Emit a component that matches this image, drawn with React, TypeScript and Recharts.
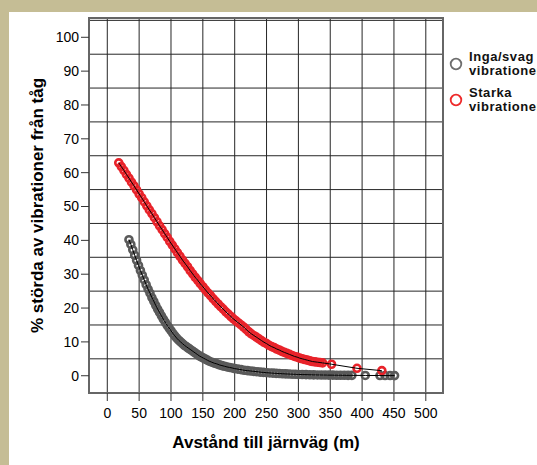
import React from 'react'
import {
  ScatterChart,
  Scatter,
  XAxis,
  YAxis,
  CartesianGrid,
  ReferenceArea,
  Legend,
} from 'recharts'

// Inga/svaga vibrationer (grå)
const WEAK_DIST = [
  34, 37, 40, 43, 46, 49, 52, 55, 58, 61, 64, 67, 70, 73, 76, 79, 82, 85, 88, 91,
  94, 97, 100, 103, 106, 109, 112, 115, 118, 121, 124,
  127, 130, 133, 136, 139, 142, 145, 148, 151, 154, 157,
  160, 164, 168, 172, 176, 180, 184, 188, 192, 196, 200,
  205, 210, 215, 220, 225, 230, 235, 240, 245, 250, 255, 260, 265, 270, 275, 280, 285, 290, 295, 300,
  306, 312, 318, 324, 330, 336, 342, 348, 354, 360, 366, 372, 378, 384,
  405, 428, 436, 444, 451,
]
const WEAK_PCT = [
  40.2, 38.8, 37.2, 35.6, 34.1, 32.6, 31.1, 29.7, 28.3, 26.9, 25.6, 24.4, 23.1, 22.0, 20.8, 19.7, 18.7, 17.7, 16.7, 15.8,
  14.9, 14.1, 13.3, 12.5, 11.8, 11.1, 10.5, 10.0, 9.5, 9.0, 8.6,
  8.2, 7.8, 7.4, 7.0, 6.6, 6.2, 5.8, 5.5, 5.2, 4.9, 4.6,
  4.3, 4.0, 3.7, 3.5, 3.2, 3.0, 2.8, 2.6, 2.45, 2.3, 2.1,
  1.95, 1.8, 1.6, 1.5, 1.4, 1.3, 1.2, 1.07, 0.98, 0.9, 0.83, 0.76, 0.7, 0.64, 0.59, 0.54, 0.5, 0.46, 0.42, 0.38,
  0.35, 0.32, 0.29, 0.26, 0.24, 0.22, 0.2, 0.18, 0.17, 0.15, 0.14, 0.13, 0.12, 0.11,
  0.08, 0.06, 0.05, 0.05, 0.04,
]

// Starka vibrationer (röd)
const STRONG_DIST = [
  18, 22, 26, 30, 34, 38, 42, 46, 50, 54, 58, 62, 66, 70, 74, 78, 82, 86, 90, 94,
  98, 102, 106, 110, 114, 118, 122, 126, 130, 134, 138, 142, 146, 150, 154, 158, 162, 166, 170, 174,
  178, 182, 186, 190, 194, 198, 202, 206, 210, 214, 218, 222, 226, 230, 234, 238, 242, 246, 250, 254,
  258, 262, 266, 270, 274, 278, 282, 286, 290, 294, 298, 302, 306, 310, 314, 318, 322, 326, 330, 334,
  338, 352, 392, 431,
]
const STRONG_PCT = [
  62.9, 61.8, 60.7, 59.5, 58.4, 57.2, 56.1, 54.9, 53.7, 52.6, 51.4, 50.2, 49.0, 47.9, 46.7, 45.5, 44.3, 43.2, 42.0, 40.9,
  39.7, 38.6, 37.5, 36.4, 35.3, 34.2, 33.2, 32.2, 31.1, 30.1, 29.1, 28.2, 27.2, 26.3, 25.4, 24.5, 23.7, 22.8, 22.0, 21.2,
  20.4, 19.7, 18.9, 18.2, 17.5, 16.8, 16.2, 15.6, 15.0, 14.4, 13.7, 13.0, 12.4, 11.9, 11.4, 10.9, 10.4, 9.9, 9.5, 9.0,
  8.6, 8.3, 7.9, 7.6, 7.2, 6.9, 6.6, 6.3, 6.0, 5.7, 5.5, 5.2, 5.0, 4.8, 4.6, 4.4, 4.2, 4.1, 4.0, 3.9,
  3.8, 3.4, 2.2, 1.5,
]

const X_TICKS = [0, 50, 100, 150, 200, 250, 300, 350, 400, 450, 500]
const Y_TICKS = [0, 10, 20, 30, 40, 50, 60, 70, 80, 90, 100]
const Y_GRID = [-5, 0, 5, 10, 15, 20, 25, 30, 35, 40, 45, 50, 55, 60, 65, 70, 75, 80, 85, 90, 95, 100, 105]

const SERIES = [
  { key: 'weak', lines: ['Inga/svag', 'vibrationer'], color: '#6e6e6e' },
  { key: 'strong', lines: ['Starka', 'vibrationer'], color: '#ee2a2a' },
]

const X_DOMAIN: [number, number] = [-28.7, 527]
const Y_DOMAIN: [number, number] = [-5.1, 105.7]

const FONT = '"Liberation Sans", Arial, sans-serif'

const weakData = WEAK_DIST.map((x, i) => ({ x, y: WEAK_PCT[i] }))
const strongData = STRONG_DIST.map((x, i) => ({ x, y: STRONG_PCT[i] }))

const ring = (color: string) => (props: any) => (
  <circle cx={props.cx} cy={props.cy} r={3.5} fill="none" stroke={color} strokeWidth={2.6} />
)
const noMarker = () => <g />

function LegendBox() {
  return (
    <div
      style={{
        fontFamily: FONT,
        fontSize: 13,
        fontWeight: 'bold',
        letterSpacing: 0.55,
        color: '#111',
        lineHeight: '14px',
      }}
    >
      {SERIES.map((s, i) => (
        <div key={s.key} style={{ display: 'flex', alignItems: 'center', marginTop: i ? 8 : 0 }}>
          <svg width={14} height={14} style={{ flex: 'none' }}>
            <circle cx={7} cy={7} r={5.3} fill="none" stroke={s.color} strokeWidth={1.8} />
          </svg>
          <div style={{ marginLeft: 6, whiteSpace: 'nowrap' }}>
            {s.lines.map((l) => (
              <div key={l}>{l}</div>
            ))}
          </div>
        </div>
      ))}
    </div>
  )
}

export default function App() {
  return (
    <div
      style={{
        position: 'fixed',
        left: 0,
        top: 0,
        width: 537,
        height: 465,
        background: '#c5bd95',
        overflow: 'hidden',
      }}
    >
      <div style={{ position: 'absolute', left: 9, top: 12, width: 528, height: 453, background: '#fff' }} />
      <div style={{ position: 'absolute', left: 0, top: 0 }}>
        <ScatterChart width={537} height={465} margin={{ top: 18, right: 94, bottom: 42, left: 29 }}>
          <CartesianGrid
            stroke="#262626"
            strokeWidth={1}
            horizontalValues={Y_GRID}
            verticalValues={X_TICKS}
          />
          <XAxis
            type="number"
            dataKey="x"
            domain={X_DOMAIN}
            ticks={X_TICKS}
            allowDataOverflow
            height={30}
            axisLine={false}
            tickSize={8}
            tickMargin={7}
            tickLine={{ stroke: '#333' }}
            tick={{ fontSize: 14, fill: '#000', fontFamily: FONT }}
            label={{
              value: 'Avstånd till järnväg (m)',
              position: 'bottom',
              offset: 13,
              style: { fontSize: 17, fontWeight: 'bold', fill: '#000', fontFamily: FONT },
            }}
          />
          <YAxis
            type="number"
            dataKey="y"
            domain={Y_DOMAIN}
            ticks={Y_TICKS}
            allowDataOverflow
            width={60}
            axisLine={false}
            tickSize={8}
            tickMargin={2}
            tickLine={{ stroke: '#333' }}
            tick={{ fontSize: 14, fill: '#000', fontFamily: FONT }}
            label={{
              content: (p: any) => {
                const vb = p.viewBox || { y: 18, height: 375 }
                const cy = vb.y + vb.height / 2
                return (
                  <text
                    x={42.5}
                    y={cy}
                    transform={`rotate(-90, 42.5, ${cy})`}
                    textAnchor="middle"
                    style={{ fontSize: 17, fontWeight: 'bold', fill: '#000', fontFamily: FONT }}
                  >
                    % störda av vibrationer från tåg
                  </text>
                )
              },
            }}
          />
          <ReferenceArea
            x1={X_DOMAIN[0]}
            x2={X_DOMAIN[1]}
            y1={Y_DOMAIN[0]}
            y2={Y_DOMAIN[1]}
            fill="none"
            stroke="#666"
            strokeWidth={2}
            ifOverflow="visible"
          />
          <Scatter data={weakData} fill="none" shape={ring('#5a5a5a')} isAnimationActive={false} />
          <Scatter data={strongData} fill="none" shape={ring('#e8232a')} isAnimationActive={false} />
          <Scatter
            data={weakData}
            fill="none"
            shape={noMarker}
            line={{ stroke: '#000', strokeWidth: 1 }}
            isAnimationActive={false}
          />
          <Scatter
            data={strongData}
            fill="none"
            shape={noMarker}
            line={{ stroke: '#000', strokeWidth: 1 }}
            isAnimationActive={false}
          />
          <Legend
            layout="vertical"
            align="center"
            verticalAlign="middle"
            content={<LegendBox />}
            wrapperStyle={{ left: 449, top: 50, width: 120, margin: 0 }}
          />
        </ScatterChart>
      </div>
    </div>
  )
}
